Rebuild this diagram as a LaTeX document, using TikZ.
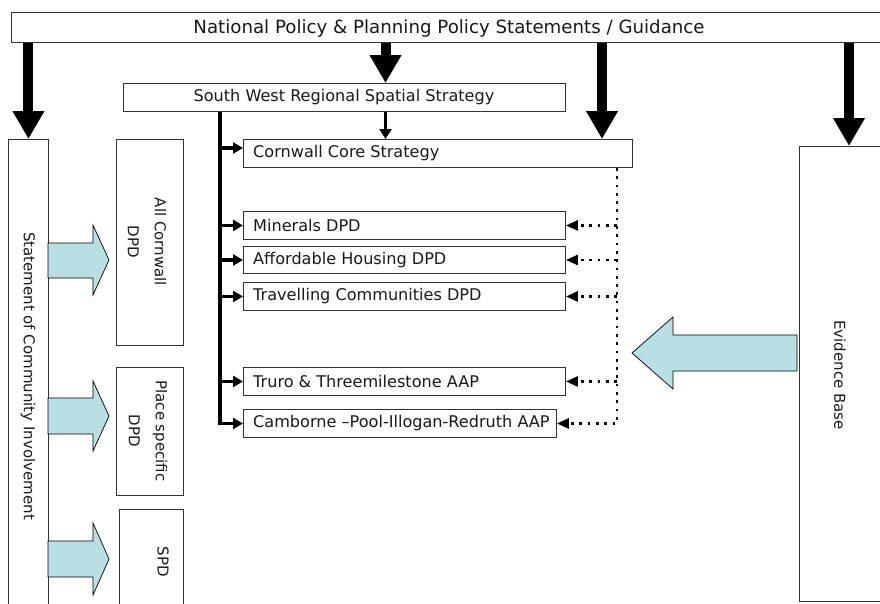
\documentclass[tikz,border=0pt]{standalone}
\usepackage{fontspec}
\setmainfont{DejaVu Sans}
\usetikzlibrary{arrows.meta,calc}
\definecolor{ablue}{RGB}{184,223,227}
\definecolor{bord}{RGB}{50,50,50}
\begin{document}
\begin{tikzpicture}[x=1pt,y=-1pt,
  box/.style={draw=bord, line width=0.9pt, rectangle, inner sep=0pt, anchor=north west},
  txt/.style={font=\fontsize{16.1}{19}\selectfont, inner sep=0pt, text=black!90},
  toptxt/.style={font=\fontsize{18.2}{21}\selectfont, inner sep=0pt, text=black!90},
  rottxt/.style={font=\fontsize{15}{27}\selectfont, inner sep=0pt, text=black!90, rotate=-90, align=center},
  bigarrow/.style={line width=10pt, -{Triangle[width=30pt,length=28pt]}},
  thinarrow/.style={line width=2.5pt, -{Triangle[width=12pt,length=10pt]}},
  branch/.style={line width=3.5pt, -{Triangle[width=11pt,length=10pt]}},
  dotarrow/.style={line width=2.7pt, dash pattern=on 2.7pt off 5.6pt, -{Triangle[width=10pt,length=12pt]}},
  blockarrow/.style={fill=ablue, draw=black, line width=0.7pt, line join=miter}]
\useasboundingbox (0,0) rectangle (880,603);
\clip (0,0) rectangle (880,603);
% boxes
\node[box, minimum width=890pt, minimum height=30pt] (nat) at (11,12) {};
\node[box, minimum width=442pt, minimum height=28pt] (sw) at (123,83) {};
\node[box, minimum width=389pt, minimum height=28pt] (cc) at (243,139) {};
\node[box, minimum width=322pt, minimum height=28pt] (min) at (243,211) {};
\node[box, minimum width=322pt, minimum height=27pt] (aff) at (243,246) {};
\node[box, minimum width=322pt, minimum height=28pt] (trav) at (243,282) {};
\node[box, minimum width=322pt, minimum height=28pt] (truro) at (243,367) {};
\node[box, minimum width=313pt, minimum height=28pt] (cam) at (243,409) {};
\node[box, minimum width=40pt, minimum height=480pt] (sci) at (8,139) {};
\node[box, minimum width=67pt, minimum height=206pt] (acd) at (116,139) {};
\node[box, minimum width=67pt, minimum height=128pt] (psd) at (116,367) {};
\node[box, minimum width=64pt, minimum height=110pt] (spd) at (119,509) {};
\node[box, minimum width=100pt, minimum height=455pt] (ev) at (799,146) {};
% texts
\node[toptxt] (natt) at (449,28) {National Policy \& Planning Policy Statements / Guidance};
\node[txt] (swt) at (344,97) {South West Regional Spatial Strategy};
\node[txt, anchor=west] (cct) at ([xshift=10pt]cc.west) {Cornwall Core Strategy};
\node[txt, anchor=west] (mint) at ([xshift=10pt]min.west) {Minerals DPD};
\node[txt, anchor=west] (afft) at ([xshift=10pt]aff.west) {Affordable Housing DPD};
\node[txt, anchor=west] (travt) at ([xshift=10pt]trav.west) {Travelling Communities DPD};
\node[txt, anchor=west] (trurot) at ([xshift=10pt]truro.west) {Truro \& Threemilestone AAP};
\node[txt, anchor=west] (camt) at ([xshift=10pt]cam.west) {Camborne –Pool-Illogan-Redruth AAP};
\node[rottxt] (scit) at (28,376) {Statement of Community Involvement};
\node[rottxt] (evt) at (840,375) {Evidence Base};
\node[rottxt] (acdt) at (147,242) {All Cornwall\\DPD};
\node[rottxt] (psdt) at (148,431) {Place specific\\DPD};
\node[rottxt] (spdt) at (163,562) {SPD};
% big black arrows
\coordinate (ax2) at (385.5,0);
\coordinate (ax3) at (602,0);
\coordinate (ax4) at (849,0);
\draw[bigarrow] (nat.south -| sci.north) -- (sci.north);
\draw[bigarrow] (nat.south -| ax2) -- (sw.north -| ax2);
\draw[bigarrow] (nat.south -| ax3) -- (cc.north -| ax3);
\draw[bigarrow] (nat.south -| ax4) -- (ev.north -| ax4);
\draw[thinarrow] (sw.south -| ax2) -- (cc.north -| ax2);
% solid branch lines
\coordinate (vx) at (220,0);
\draw[branch] (sw.south -| vx) |- (cam.west);
\draw[branch] (220,148) -- (cc.west |- 220,148);
\foreach \b in {min,aff,trav,truro}{\draw[branch] (vx |- \b.west) -- (\b.west);}
% dotted lines
\coordinate (dx) at (617,0);
\draw[dotarrow] (cc.south -| dx) |- (cam.east);
\foreach \b in {min,aff,trav,truro}{\draw[dotarrow] (dx |- \b.east) -- (\b.east);}
% block arrows
\filldraw[blockarrow] (48,243) -- (93,243) -- (93,225) -- (109,260) -- (93,295) -- (93,278) -- (48,278) -- cycle;
\filldraw[blockarrow] (48,398) -- (93,398) -- (93,381) -- (109,416) -- (93,451) -- (93,434) -- (48,434) -- cycle;
\filldraw[blockarrow] (48,541) -- (93,541) -- (93,523) -- (109,559) -- (93,595) -- (93,577) -- (48,577) -- cycle;
\filldraw[blockarrow] (797,335) -- (673,335) -- (673,317) -- (632,353) -- (673,389) -- (673,371) -- (797,371) -- cycle;
\end{tikzpicture}
\end{document}
